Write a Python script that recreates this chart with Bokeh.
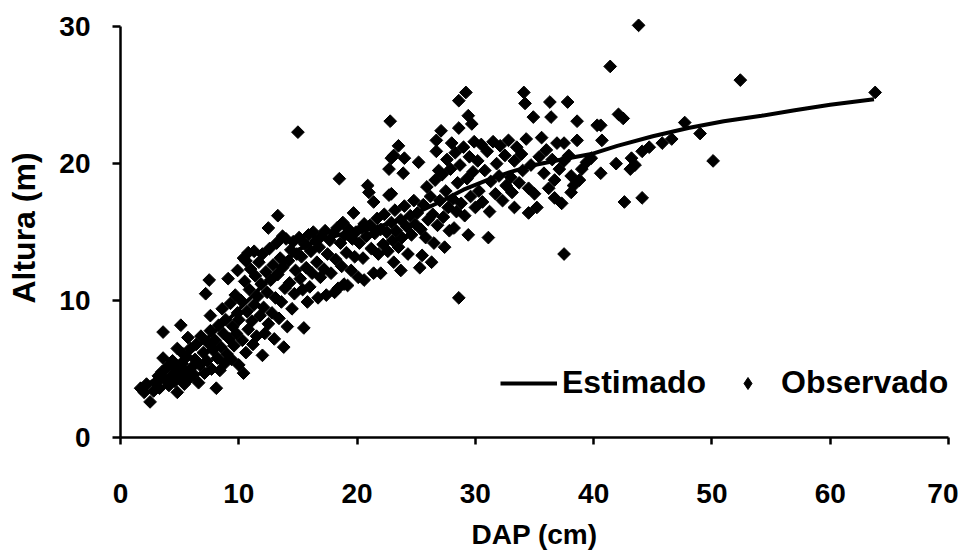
import math
from bokeh.plotting import figure
from bokeh.models import Range1d, FixedTicker, Legend, LegendItem, ColumnDataSource
from bokeh.embed import file_html
from bokeh.resources import INLINE

# Estimated curve (DAP cm -> Altura m)
est_dap = [1.5, 3, 5, 7, 9, 11, 13, 15, 17, 19, 21, 23, 25, 27, 29, 31, 33, 35,
           37.3, 39.8, 42, 45, 48, 51, 54.2, 57, 60, 63.7]
est_alt = [3.4, 4.3, 5.6, 7.0, 8.5, 10.2, 12.0, 13.7, 14.5, 14.9, 15.2, 15.7, 16.4,
           17.2, 18.1, 18.8, 19.4, 19.9, 20.3, 20.7, 21.3, 22.0, 22.6, 23.1, 23.5,
           23.9, 24.3, 24.7]

# Observed trees
obs_dap = [
    1.7, 2.0, 2.2, 2.5, 2.8, 3.0, 3.2, 3.3, 3.5, 3.6, 3.6, 3.8, 4.0, 4.1, 4.3, 4.4,
    4.6, 4.7, 4.8, 4.8, 5.0, 5.1, 5.2, 5.3, 5.4, 5.5, 5.6, 5.7, 5.8, 5.9, 6.0,
    6.2, 6.3, 6.4, 6.6, 6.7, 6.8, 7.0, 7.1, 7.2, 7.3, 7.4, 7.5, 7.6, 7.6, 7.7, 7.8,
    8.0, 8.1, 8.2, 8.3, 8.4, 8.5, 8.6, 8.7, 8.8, 8.9, 9.0, 9.1, 9.2, 9.3, 9.4, 9.5,
    9.6, 9.7, 9.8, 9.9, 9.9, 10.0, 10.0,
    10.2, 10.3, 10.4, 10.4, 10.5, 10.6, 10.6, 10.7, 10.8, 10.8, 10.9, 11.0, 11.1,
    11.2, 11.3, 11.3, 11.4, 11.5, 11.6, 11.7, 11.8, 11.9, 12.0, 12.0, 12.1, 12.2,
    12.3, 12.4, 12.5, 12.5, 12.6, 12.7, 12.8, 12.9, 13.0, 13.1, 13.2, 13.3, 13.3,
    13.4, 13.5, 13.6, 13.7, 13.7, 13.8, 13.9, 14.0, 14.1, 14.2, 14.3, 14.4, 14.5,
    14.6, 14.7, 14.8, 14.9, 15.0,
    15.1, 15.2, 15.3, 15.4, 15.5, 15.6, 15.7, 15.8, 15.9, 16.0, 16.1, 16.2, 16.3,
    16.5, 16.6, 16.7, 16.8, 16.9, 17.0, 17.2, 17.3, 17.4, 17.5, 17.7, 17.8, 18.0,
    18.1, 18.2, 18.3, 18.4, 18.5, 18.6, 18.7, 18.8, 18.9, 19.0, 19.1, 19.2, 19.3,
    19.5, 19.6, 19.7, 19.8, 19.9, 20.1,
    20.2, 20.4, 20.5, 20.6, 20.6, 20.8, 20.9, 21.0, 21.1, 21.2, 21.4, 21.4, 21.5,
    21.7, 21.8, 22.0, 22.0, 22.2, 22.3, 22.5, 22.6, 22.7, 22.7, 22.8, 22.9, 22.9,
    22.9, 23.0, 23.1, 23.1, 23.2, 23.3, 23.5, 23.5, 23.7, 23.7, 23.8, 23.9, 24.0,
    24.0, 24.2, 24.3, 24.5, 24.6, 24.8, 24.9,
    25.1, 25.2, 25.3, 25.4, 25.5, 25.6, 25.8, 25.9, 26.0, 26.2, 26.3, 26.4, 26.5,
    26.6, 26.7, 26.7, 26.8, 26.9, 27.0, 27.1, 27.2, 27.3, 27.4, 27.5, 27.6, 27.7,
    27.8, 27.9, 28.0, 28.1, 28.2, 28.3, 28.4, 28.5, 28.6, 28.6, 28.6, 28.7, 28.8,
    29.0, 29.1, 29.2, 29.3, 29.4, 29.4, 29.5, 29.6, 29.7, 29.8, 29.9, 30.0,
    30.2, 30.3, 30.5, 30.6, 30.8, 31.0, 31.1, 31.2, 31.3, 31.5, 31.7, 31.8, 32.0,
    32.1, 32.3, 32.5, 32.6, 32.8, 33.0, 33.1, 33.3, 33.3, 33.5, 33.7, 33.9, 34.0,
    34.1, 34.2, 34.3, 34.5, 34.5, 34.7, 34.9, 35.0, 35.2, 35.4, 35.6, 35.8, 36.0,
    36.2, 36.3, 36.4, 36.5, 36.7, 36.7, 36.9,
    37.1, 37.3, 37.5, 37.5, 37.5, 37.8, 37.9, 38.1, 38.1, 38.3, 38.6, 38.6, 38.8,
    39.0, 39.4, 39.8, 40.3, 40.6, 40.6, 40.7, 41.4, 41.9, 42.1, 42.5, 42.6, 43.1,
    43.2, 43.5, 43.8, 44.1, 44.1, 44.7,
    45.8, 46.6, 47.7, 49.0, 50.1, 52.4, 63.8,
]
obs_alt = [
    3.6, 3.3, 3.9, 2.6, 3.4, 4.0, 4.5, 3.6, 4.8, 5.8, 7.7, 4.2, 5.2, 3.8, 4.5, 5.6,
    4.1, 5.0, 6.5, 3.3, 4.4, 8.2, 5.4, 6.1, 3.9, 4.8, 5.9, 7.3, 4.3, 6.5, 5.1,
    4.6, 5.7, 6.8, 4.0, 5.3, 7.4, 6.2, 4.7, 10.5, 5.6, 6.9, 11.5, 8.9, 7.8, 5.0, 6.4,
    7.1, 3.6, 5.8, 8.2, 4.9, 6.6, 9.4, 7.6, 5.4, 8.6, 6.1, 11.6, 7.2, 9.8, 5.7, 8.1,
    6.7, 10.4, 7.6, 12.2, 9.1, 5.3, 8.6,
    10.0, 7.1, 4.7, 13.1, 11.4, 12.9, 6.2, 9.2, 13.5, 7.9, 10.8, 12.3, 8.5,
    6.8, 13.6, 9.7, 11.8, 7.4, 10.3, 12.8, 8.9, 11.2, 6.0, 13.4, 9.5, 7.6,
    12.1, 10.6, 15.3, 8.3, 13.8, 11.5, 9.1, 12.6, 7.2, 10.2, 14.2, 16.2, 11.9,
    8.7, 13.1, 9.9, 14.7, 12.4, 6.6, 10.9, 14.5, 8.1, 12.9, 11.3, 13.7, 9.4,
    14.3, 10.5, 12.2, 13.4, 22.3,
    14.6, 11.6, 13.2, 10.8, 8.0, 14.1, 12.4, 9.9, 14.8, 11.0, 13.6, 12.0, 15.0,
    14.3, 12.8, 10.2, 13.9, 11.7, 14.7, 12.3, 15.1, 10.4, 13.4, 14.4, 12.0, 14.9,
    10.6, 13.0, 15.3, 10.9, 18.9, 14.2, 12.5, 15.7, 11.2, 14.8, 13.5, 11.1, 15.2,
    12.2, 14.5, 16.4, 13.2, 15.0, 11.7,
    14.2, 15.3, 13.1, 15.6, 11.5, 14.7, 18.4, 17.9, 15.5, 13.8, 17.2, 12.0, 14.9,
    16.0, 13.4, 15.2, 12.0, 14.1, 16.3, 15.0, 13.6, 17.7, 19.6, 23.1, 20.4, 17.8,
    15.7, 14.4, 20.6, 12.8, 16.6, 15.1, 21.3, 13.9, 15.9, 12.2, 14.6, 19.3, 20.4,
    16.9, 15.4, 13.4, 16.2, 14.8, 17.3, 15.6,
    16.4, 20.1, 12.4, 15.2, 13.3, 17.0, 14.6, 18.3, 15.9, 17.6, 12.8, 16.3, 14.2,
    18.8, 20.9, 21.7, 15.5, 19.5, 17.3, 22.4, 19.2, 16.1, 13.9, 18.0, 20.3, 16.8,
    15.1, 19.6, 21.5, 17.4, 15.3, 20.8, 16.5, 18.6, 22.6, 24.6, 10.2, 19.9, 17.1,
    21.2, 16.2, 25.2, 18.9, 23.5, 14.8, 20.5, 17.6, 22.9, 19.4, 21.6, 16.8,
    20.2, 18.0, 21.4, 17.2, 19.5, 20.9, 14.6, 16.5, 18.7, 21.6, 17.8, 20.0, 19.1,
    21.3, 17.3, 20.6, 18.4, 21.7, 19.0, 17.9, 20.2, 16.8, 21.2, 18.6, 20.7, 19.5,
    25.2, 24.4, 21.8, 18.2, 16.4, 19.9, 23.4, 17.8, 16.8, 20.5, 21.9, 19.3, 21.0,
    18.2, 24.5, 23.4, 20.3, 18.8, 17.5, 21.5,
    19.6, 17.1, 21.5, 20.2, 13.4, 24.5, 20.6, 19.1, 17.9, 18.4, 23.1, 21.7, 18.8,
    19.6, 20.1, 20.4, 22.8, 22.8, 19.3, 21.7, 27.1, 20.0, 23.6, 23.3, 17.2, 19.6,
    20.4, 19.9, 30.1, 20.9, 17.5, 21.2,
    21.5, 21.8, 23.0, 22.2, 20.2, 26.1, 25.2,
]

x_ticks = [0, 10, 20, 30, 40, 50, 60, 70]
y_ticks = [0, 10, 20, 30]

FONT = "Liberation Sans"

p = figure(width=958, height=552, x_range=Range1d(0, 70), y_range=Range1d(0, 30.6),
           output_backend="svg", toolbar_location=None,
           min_border_left=120, min_border_right=10, min_border_top=18,
           min_border_bottom=115)
p.outline_line_color = None
p.grid.visible = False
p.background_fill_color = "white"

line_r = p.line(est_dap, est_alt, line_width=4, line_color="black")
src = ColumnDataSource(dict(x=obs_dap, y=obs_alt))
pts_r = p.scatter("x", "y", source=src, marker="square", angle=math.pi / 4,
                  size=9, fill_color="black", line_color="black")
# legend key: a diamond drawn on the first observation (hidden under its square)
key_r = p.scatter(x=obs_dap[:1], y=obs_alt[:1], marker="diamond", size=12,
                  fill_color="black", line_color="black")

p.xaxis.ticker = FixedTicker(ticks=x_ticks)
p.yaxis.ticker = FixedTicker(ticks=y_ticks)
p.yaxis.bounds = (0, 30)
for ax in (p.xaxis[0], p.yaxis[0]):
    ax.axis_line_width = 2.5
    ax.axis_line_color = "black"
    ax.major_tick_line_width = 2.5
    ax.major_tick_line_color = "black"
    ax.minor_tick_line_color = None
    ax.major_tick_in = 0
    ax.major_label_text_font = FONT
    ax.major_label_text_font_style = "bold"
    ax.major_label_text_font_size = "28px"
    ax.major_label_text_color = "black"
    ax.axis_label_text_font = FONT
    ax.axis_label_text_font_style = "bold"
    ax.axis_label_text_color = "black"

p.xaxis.axis_label = "DAP (cm)"
p.yaxis.axis_label = "Altura (m)"
p.xaxis.axis_label_text_font_size = "28px"
p.yaxis.axis_label_text_font_size = "32px"
p.xaxis.major_tick_out = 7
p.yaxis.major_tick_out = 8
p.xaxis.major_label_standoff = 39
p.yaxis.major_label_standoff = 22
p.xaxis.axis_label_standoff = 13
p.yaxis.axis_label_standoff = 14

legend = Legend(items=[LegendItem(label="Estimado", renderers=[line_r]),
                       LegendItem(label="Observado", renderers=[key_r])],
                orientation="horizontal", location=(380, 36),
                glyph_width=57, glyph_height=30, label_height=30,
                label_standoff=5, spacing=13, padding=0, margin=0,
                border_line_color=None, background_fill_alpha=0,
                label_text_font=FONT, label_text_font_style="bold",
                label_text_font_size="32px", label_text_color="black")
p.add_layout(legend)

open("out.html", "w").write(file_html(p, INLINE))
